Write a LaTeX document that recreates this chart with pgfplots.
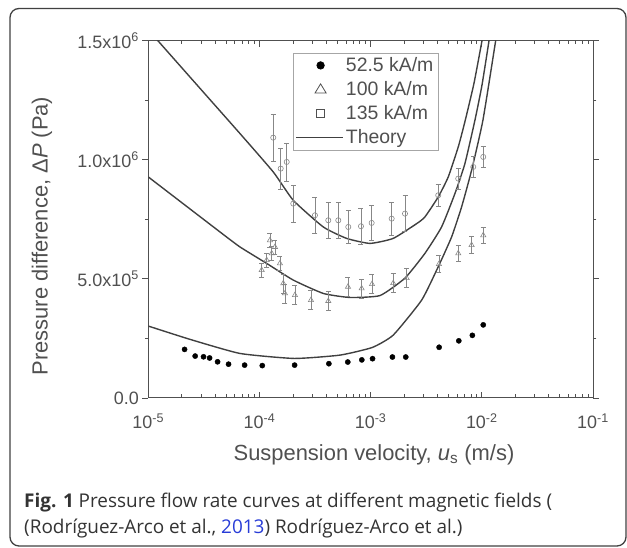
\documentclass[border=0pt]{standalone}
\usepackage{pgfplots}
\pgfplotsset{compat=1.18}
\usepackage{fontspec}
\setmainfont{Liberation Sans}
\newfontfamily\capfont{Open Sans}
\definecolor{axgray}{RGB}{80,80,80}
\definecolor{ptgray}{RGB}{135,135,135}
\definecolor{linkblue}{RGB}{40,60,215}

% legend symbols drawn at a fixed size
\pgfplotsset{
  legdot/.style={legend image code/.code={%
      \path[draw=none] (0cm,0cm) (1.65cm,0cm);
      \fill[black] (0.85cm,0cm) circle (3.8bp);}},
  legtri/.style={legend image code/.code={%
      \path[draw=none] (0cm,0cm) (1.65cm,0cm);
      \draw[axgray, line width=0.8bp, line join=miter]
        (0.85cm,5.6bp) -- ++(-5.6bp,-9.2bp) -- ++(11.2bp,0bp) -- cycle;}},
  legsq/.style={legend image code/.code={%
      \path[draw=none] (0cm,0cm) (1.65cm,0cm);
      \draw[axgray, line width=0.8bp]
        ([xshift=-4.3bp,yshift=-4.3bp]0.85cm,0cm) rectangle ([xshift=4.3bp,yshift=4.3bp]0.85cm,0cm);}},
  legline/.style={legend image code/.code={%
      \draw[##1] (0cm,0cm) -- (1.65cm,0cm);}},
}

% theory curves
\pgfplotstableread{
x y
1.072e-5 1.530e6
1.230e-5 1.498e6
2.917e-5 1.300e6
6.683e-5 1.110e6
1.330e-4 0.949e6
2.014e-4 0.830e6
3.750e-4 0.718e6
6.081e-4 0.670e6
9.863e-4 0.649e6
1.596e-3 0.670e6
2.594e-3 0.732e6
3.076e-3 0.760e6
4.055e-3 0.844e6
4.989e-3 0.928e6
6.138e-3 1.054e6
7.047e-3 1.160e6
8.492e-3 1.320e6
1.002e-2 1.498e6
1.035e-2 1.540e6
}\thA
\pgfplotstableread{
x y
1.000e-5 0.928e6
4.416e-5 0.697e6
6.683e-5 0.634e6
1.161e-4 0.565e6
2.014e-4 0.495e6
3.750e-4 0.439e6
6.516e-4 0.422e6
1.213e-3 0.430e6
2.032e-3 0.503e6
3.076e-3 0.607e6
4.345e-3 0.718e6
5.728e-3 0.858e6
7.047e-3 0.984e6
8.670e-3 1.166e6
1.002e-2 1.312e6
1.159e-2 1.498e6
1.190e-2 1.540e6
}\thB
\pgfplotstableread{
x y
1.000e-5 0.302e6
2.377e-5 0.246e6
6.683e-5 0.187e6
2.056e-4 0.166e6
5.297e-4 0.180e6
1.033e-3 0.212e6
1.596e-3 0.264e6
2.877e-3 0.411e6
4.055e-3 0.551e6
5.346e-3 0.676e6
6.577e-3 0.802e6
8.091e-3 0.956e6
1.023e-2 1.166e6
1.330e-2 1.498e6
1.370e-2 1.540e6
}\thC

% measurements
\pgfplotstableread{
x y
2.12e-5 0.204e6
2.64e-5 0.176e6
3.14e-5 0.173e6
3.56e-5 0.168e6
4.20e-5 0.152e6
5.27e-5 0.142e6
7.35e-5 0.138e6
1.06e-4 0.136e6
2.07e-4 0.138e6
4.21e-4 0.144e6
6.23e-4 0.151e6
8.33e-4 0.160e6
1.04e-3 0.165e6
1.57e-3 0.172e6
2.07e-3 0.172e6
4.13e-3 0.213e6
6.21e-3 0.240e6
8.22e-3 0.263e6
1.03e-2 0.307e6
}\dotsA
\pgfplotstableread{
x y e
1.047e-4 0.537e6 0.030e6
1.161e-4 0.579e6 0.030e6
1.242e-4 0.662e6 0.030e6
1.288e-4 0.607e6 0.030e6
1.378e-4 0.634e6 0.030e6
1.528e-4 0.565e6 0.030e6
1.637e-4 0.481e6 0.040e6
1.695e-4 0.439e6 0.040e6
2.084e-4 0.432e6 0.040e6
2.905e-4 0.411e6 0.040e6
4.159e-4 0.407e6 0.040e6
6.252e-4 0.467e6 0.040e6
8.299e-4 0.460e6 0.040e6
1.028e-3 0.478e6 0.040e6
1.596e-3 0.482e6 0.040e6
2.109e-3 0.503e6 0.040e6
4.111e-3 0.562e6 0.035e6
6.138e-3 0.607e6 0.035e6
8.091e-3 0.642e6 0.035e6
1.030e-2 0.683e6 0.035e6
}\triB
\pgfplotstableread{
x y e
1.330e-4 1.093e6 0.100e6
1.552e-4 0.963e6 0.087e6
1.758e-4 0.991e6 0.080e6
2.014e-4 0.816e6 0.077e6
3.155e-4 0.767e6 0.077e6
4.159e-4 0.746e6 0.075e6
5.117e-4 0.746e6 0.075e6
6.295e-4 0.718e6 0.070e6
8.185e-4 0.721e6 0.075e6
1.021e-3 0.735e6 0.075e6
1.545e-3 0.753e6 0.070e6
2.037e-3 0.774e6 0.075e6
4.055e-3 0.851e6 0.045e6
6.138e-3 0.921e6 0.045e6
8.375e-3 0.970e6 0.045e6
1.030e-2 1.012e6 0.045e6
}\circC

\begin{document}
\begin{tikzpicture}[x=1bp,y=1bp]
\useasboundingbox (0,0) rectangle (627,548);
\draw[rounded corners=9bp, line width=1.3bp, black!75] (10,2) rectangle (626,539.5);

\begin{axis}[
  at={(148.3bp,150bp)}, anchor=south west,
  scale only axis, width=444.7bp, height=357.3bp,
  xmode=log, xmin=1e-5, xmax=1e-1,
  ymin=0, ymax=1.5e6,
  axis line style={axgray, line width=1bp},
  xtick={1e-5,1e-4,1e-3,1e-2,1e-1},
  xticklabels={10\textsuperscript{-5},10\textsuperscript{-4},10\textsuperscript{-3},10\textsuperscript{-2},10\textsuperscript{-1}},
  minor xtick={2e-5,3e-5,4e-5,5e-5,6e-5,7e-5,8e-5,9e-5,
               2e-4,3e-4,4e-4,5e-4,6e-4,7e-4,8e-4,9e-4,
               2e-3,3e-3,4e-3,5e-3,6e-3,7e-3,8e-3,9e-3,
               2e-2,3e-2,4e-2,5e-2,6e-2,7e-2,8e-2,9e-2},
  ytick={0,5e5,1e6,1.5e6},
  yticklabels={0.0,5.0x10\textsuperscript{5},1.0x10\textsuperscript{6},1.5x10\textsuperscript{6}},
  minor ytick={2.5e5,7.5e5,1.25e6},
  scaled y ticks=false,
  xtick align=inside, ytick align=outside,
  major tick length=6bp, minor tick length=3.5bp,
  tick style={axgray, line width=0.8bp},
  tick label style={font=\fontsize{18}{20}\selectfont, text=axgray},
  xticklabel style={yshift=-12bp},
  every axis x label/.style={at={(axis description cs:0.5075,-0.1595)}, anchor=center},
  every axis y label/.style={at={(axis description cs:-0.239,0.453)}, rotate=90, anchor=center},
  label style={font=\fontsize{22}{24}\selectfont, text=axgray},
  xlabel={Suspension velocity, \textit{u}\textsubscript{s} (m/s)},
  ylabel={Pressure difference, Δ\textit{P} (Pa)},
  legend cell align=left,
  legend style={at={(axis description cs:0.3254,0.966)}, anchor=north west,
    draw=black!35, line width=0.6bp, inner sep=2.5bp,
    font=\fontsize{19.5}{21}\selectfont, text=axgray,
    row sep=4.5bp},
]
\addlegendimage{legdot}
\addlegendentry{52.5 kA/m}
\addlegendimage{legtri}
\addlegendentry{100 kA/m}
\addlegendimage{legsq}
\addlegendentry{135 kA/m}
\addlegendimage{black!75, line width=1.4bp, legline}
\addlegendentry{Theory}

\addplot[forget plot, black!75, line width=1.4bp, smooth, tension=0.3] table[x=x,y=y] {\thA};
\addplot[forget plot, black!75, line width=1.4bp, smooth, tension=0.3] table[x=x,y=y] {\thB};
\addplot[forget plot, black!75, line width=1.4bp, smooth, tension=0.3] table[x=x,y=y] {\thC};

\addplot[forget plot, only marks, mark=triangle, ptgray, mark size=3bp, line width=0.6bp,
  error bars/.cd, y dir=both, y explicit,
  error bar style={ptgray, line width=0.6bp},
  error mark options={rotate=90, mark size=2.5bp, ptgray, line width=0.6bp}]
  table[x=x,y=y,y error=e] {\triB};
\addplot[forget plot, only marks, mark=o, ptgray, mark size=2.6bp, line width=0.6bp,
  error bars/.cd, y dir=both, y explicit,
  error bar style={ptgray, line width=0.6bp},
  error mark options={rotate=90, mark size=2.5bp, ptgray, line width=0.6bp}]
  table[x=x,y=y,y error=e] {\circC};
\addplot[forget plot, only marks, mark=*, black, mark size=2.6bp] table[x=x,y=y] {\dotsA};
\end{axis}

\node[anchor=base west, inner sep=0pt, text=black!80, font=\capfont\fontsize{19}{22}\selectfont]
  at (24,40.7) {\textbf{Fig. 1} Pressure flow rate curves at different magnetic fields (};
\node[anchor=base west, inner sep=0pt, text=black!80, font=\capfont\fontsize{19}{22}\selectfont]
  at (24,14.7) {(Rodríguez-Arco et al., \textcolor{linkblue}{2013}) Rodríguez-Arco et al.)};
\end{tikzpicture}
\end{document}
